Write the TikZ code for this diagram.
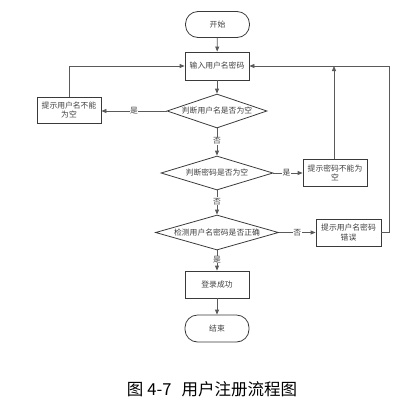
\documentclass[tikz,border=0pt]{standalone}
\usepackage{fontspec}
\setmainfont{Noto Sans CJK SC}
\newfontfamily\cjk{Noto Sans CJK SC}
\usetikzlibrary{shapes.geometric,arrows.meta}
\definecolor{linec}{HTML}{5A5A5A}
\definecolor{boxc}{HTML}{3A3A3A}
\definecolor{txtc}{HTML}{404040}
\begin{document}
\begin{tikzpicture}[x=1pt,y=-1pt,
  every node/.style={font=\cjk\fontsize{7.8}{9.5}\selectfont, text=txtc},
  procbox/.style={draw=boxc, line width=0.8pt, minimum width=64pt, minimum height=27pt, inner sep=1pt, align=center},
  termbox/.style={draw=boxc, line width=0.8pt, rounded corners=12.5pt, minimum width=64pt, minimum height=26pt, inner sep=1pt},
  decbox/.style={draw=boxc, line width=0.8pt, diamond, inner sep=0pt},
  conn/.style={draw=linec, line width=0.8pt, -{Triangle[length=5pt,width=4pt]}},
  lbl/.style={fill=white, inner sep=0.5pt}
]
\useasboundingbox (0,0) rectangle (412,405);
\node[termbox] (start) at (217.5,24.5) {开始};
\node[procbox, minimum height=28pt] (input) at (217,66) {输入用户名密码};
\node[decbox, minimum width=100pt, minimum height=34pt] (d1) at (217,111) {\makebox[0pt]{判断用户名是否为空}};
\node[procbox, minimum height=26pt] (lbox) at (69,110) {提示用户名不能\\为空};
\node[decbox, minimum width=112pt, minimum height=34pt] (d2) at (217,173) {\makebox[0pt]{判断密码是否为空}};
\node[procbox, minimum height=27pt] (rbox1) at (335,173) {提示密码不能为\\空};
\node[decbox, minimum width=123pt, minimum height=35pt] (d3) at (217,232.5) {\makebox[0pt]{检测用户名密码是否正确}};
\node[procbox, minimum width=65pt, minimum height=27pt] (rbox2) at (348.5,232.5) {提示用户名密码\\错误};
\node[procbox, minimum height=27pt] (succ) at (217,284.5) {登录成功};
\node[termbox, minimum height=27pt] (end) at (217,328.5) {结束};
\node[font=\cjk\fontsize{16.5}{18}\selectfont, text=black] (cap) at (212,389) {图\hspace{4pt}4-7\hspace{10pt}用户注册流程图};
\coordinate (lc) at (69,66);
\coordinate (rc) at (389,66);
\coordinate (rb) at (389,232.5);
\coordinate (up) at (334,66);
\draw[conn] (start) -- (input);
\draw[conn] (input) -- (d1);
\draw[conn] (d1.west) -- node[lbl, pos=0.5]{是} (lbox.east|-d1.west);
\draw[conn] (lbox.north) -- (lc) -- (input.west);
\draw[conn] (d1.south) -- node[lbl, pos=0.45]{否} (d2.north);
\draw[conn] (d2.east) -- node[lbl, pos=0.45]{是} (rbox1.west);
\draw[conn] (rbox1.north-|up) -- (up);
\draw[conn] (d2.south) -- node[lbl, pos=0.45]{否} (d3.north);
\draw[conn] (d3.east) -- node[lbl, pos=0.5]{否} (rbox2.west);
\draw[conn] (rbox2.east) -- (rb) -- (rc) -- (input.east);
\draw[conn] (d3.south) -- node[lbl, pos=0.45]{是} (succ.north);
\draw[conn] (succ) -- (end);
\end{tikzpicture}
\end{document}
